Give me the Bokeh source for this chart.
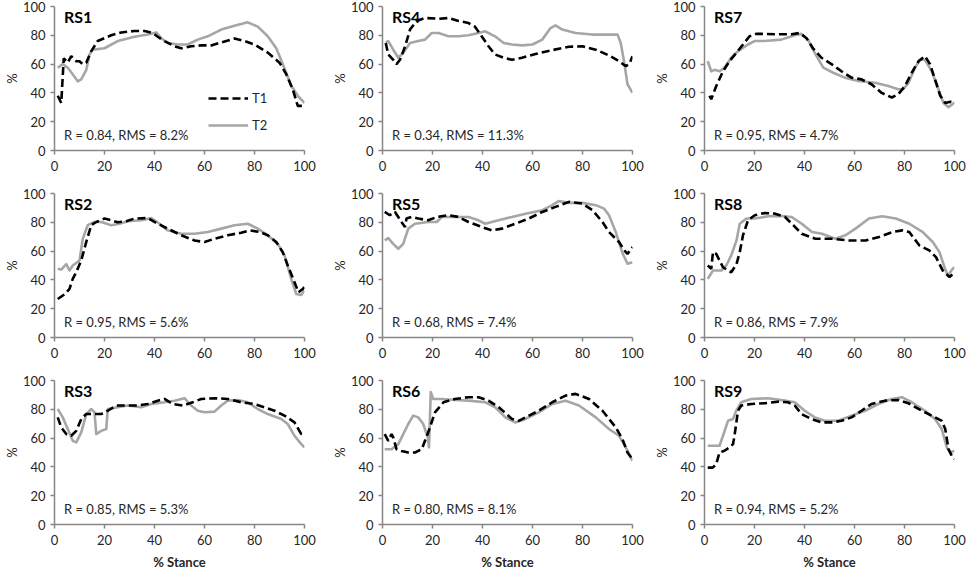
from bokeh.plotting import figure
from bokeh.models import Range1d, FixedTicker, Label, Legend, LegendItem
from bokeh.layouts import gridplot
from bokeh.embed import file_html
from bokeh.resources import INLINE

# ---------------- data ----------------
ticks = [0, 20, 40, 60, 80, 100]
series_names = ["T1", "T2"]

rs1_name = "RS1"
rs1_stats = "R = 0.84, RMS = 8.2%"
rs1_t1_x = [1.3, 2.7, 3.7, 5.3, 6.7, 8.7, 10, 11.3, 12.7, 14.7, 17.3, 22.7, 26.7, 32, 36, 39.3, 41.3, 44, 48, 50.7, 54.7, 58.7, 62.7, 66.7, 72, 76, 80, 85.3, 90, 92.7, 95.3, 97.3, 100]
rs1_t1_y = [38, 33, 64, 61, 65.5, 62, 62, 60, 61, 69, 76, 80, 82, 83, 83, 81.6, 79, 76, 72.4, 71, 72.4, 73, 73, 75, 77.7, 76, 73.6, 68, 61, 53, 42.5, 31, 31]
rs1_t2_x = [1.3, 3.3, 5.3, 7.3, 9.3, 10.7, 12.7, 14, 15.3, 20, 25.3, 32, 37.3, 40.7, 42.7, 45.3, 49.3, 53.3, 57.3, 61.3, 66.7, 72, 77.3, 81.3, 85.3, 88.7, 91.3, 94.7, 97.3, 100]
rs1_t2_y = [57.5, 60, 57.5, 53, 48, 49.4, 56, 66.7, 70, 71, 76, 79, 80.5, 82, 78, 74.7, 73.6, 73.6, 77, 79.3, 84, 86.7, 89, 86, 79.3, 71, 60, 45, 38, 33]

rs4_name = "RS4"
rs4_stats = "R = 0.34, RMS = 11.3%"
rs4_t1_x = [1.3, 2.3, 4.3, 5.6, 7, 9, 11, 13.7, 17, 22.4, 26.4, 30.4, 34.4, 37, 39.8, 42.4, 45, 48.5, 51.8, 55.8, 61.2, 67.9, 74.6, 79.9, 85.3, 90.6, 94.6, 97.3, 98.7, 100]
rs4_t1_y = [74.7, 66.7, 63, 60, 63, 72, 84, 90, 92, 91.5, 92, 90, 88.5, 86, 79, 72.4, 66.7, 64.4, 63, 64.4, 67, 69.7, 72, 72.4, 70, 66, 62, 58.6, 60, 65.5]
rs4_t2_x = [1.3, 2.3, 4.3, 6.3, 8.3, 11, 14.3, 17, 19.7, 22.4, 26.4, 30.4, 34.4, 38.4, 41, 45, 48.5, 51.8, 55.8, 60, 63.9, 67.2, 69.2, 71.9, 77.2, 83.9, 90.6, 94, 95.3, 96.7, 98, 100]
rs4_t2_y = [75, 76, 70, 64.4, 67.8, 74.7, 76, 77, 81.6, 81.6, 79.3, 79.3, 80, 81.6, 82.8, 79.3, 74.7, 73.6, 73, 73.6, 77, 85, 86.9, 84, 81.6, 80.5, 80.5, 80.5, 74.7, 61, 46, 40]

rs7_name = "RS7"
rs7_stats = "R = 0.95, RMS = 4.7%"
rs7_t1_x = [2, 2.7, 4.7, 7.4, 10, 12.7, 15.4, 18, 20.7, 24, 29.4, 34.8, 38.1, 40.8, 43.4, 46.8, 50.8, 54.8, 58.8, 62.8, 66.8, 70.9, 74.9, 77.5, 80.2, 82.9, 85.6, 88.2, 90.2, 92.2, 94.3, 96.3, 98.3, 100]
rs7_t1_y = [38, 35.6, 44.8, 55, 62, 67.8, 73.6, 79.3, 81, 81, 80.7, 80.7, 81.6, 78, 71, 64.4, 60, 55, 50.6, 49.4, 46, 40, 36.8, 39, 44.8, 54, 62, 65.5, 60, 49.4, 38, 33, 33.8, 33]
rs7_t2_x = [1.3, 2.7, 4, 6, 8, 10.7, 13.4, 17.4, 20, 24, 30.7, 36.1, 38.8, 41.4, 44.1, 47.5, 51.5, 56.1, 61.5, 68.2, 73.5, 77.5, 79.5, 81.6, 84.2, 86.2, 88.2, 90.9, 93.6, 95.6, 97.6, 100]
rs7_t2_y = [62, 55, 56, 55, 57.5, 64.4, 69, 73.6, 76, 76, 77, 80, 81, 77, 67.8, 57.5, 54, 50.6, 48.3, 47, 44.8, 42.5, 42.5, 47, 57.5, 63, 63, 55, 42.5, 33, 30, 33.3]

rs2_name = "RS2"
rs2_stats = "R = 0.95, RMS = 5.6%"
rs2_t1_x = [1.3, 4, 6, 7.3, 8.7, 10.7, 12.7, 14.7, 16.7, 20, 22.7, 25.3, 28.7, 32, 37.3, 41.3, 45.3, 50.7, 56, 60, 64, 69.3, 74.7, 78, 82, 85.3, 88.7, 91.3, 93.3, 96, 97.6, 99.3, 100]
rs2_t1_y = [26.7, 30, 33.7, 40.7, 45.3, 53.5, 66.3, 78, 80.2, 82.6, 81.4, 80, 80.7, 82.6, 83, 79, 75.6, 71, 67.4, 66.3, 68.6, 71, 72.8, 74.4, 73.3, 71, 66.3, 59.3, 50, 38.4, 31.4, 33.7, 34.9]
rs2_t2_x = [1.3, 2.7, 4.7, 6, 7.3, 10, 11.3, 13.3, 16, 18.7, 22.7, 26, 29.3, 34.7, 38.7, 42, 45.3, 50.7, 56, 61.3, 66.7, 72, 77.3, 81.3, 85.3, 89.3, 92, 94.7, 96.7, 98.7, 100]
rs2_t2_y = [47.7, 47.2, 51, 46.5, 50, 53.5, 68.6, 78, 80.2, 80.2, 78, 79, 80.7, 81.4, 83, 79, 74.4, 72, 72, 73.3, 75.6, 78, 79, 75.6, 71, 65, 57, 40.7, 30.2, 29.5, 32.6]

rs5_name = "RS5"
rs5_stats = "R = 0.68, RMS = 7.4%"
rs5_t1_x = [0.9, 2.9, 5, 6.3, 7.6, 9, 9.6, 11.6, 14.3, 18.3, 21.7, 26.4, 30.4, 34.4, 39.8, 43.8, 47.8, 53.1, 58.5, 63.9, 69.2, 74.6, 79.9, 84, 88, 90.6, 94.6, 96.7, 98, 100]
rs5_t1_y = [87.2, 84.9, 87.2, 83.7, 80.2, 76.7, 82.6, 83.7, 82.6, 81.4, 83.7, 84.9, 83.7, 80.2, 76.7, 74.4, 75.6, 79, 82.6, 87.2, 90.7, 94.2, 93, 88.4, 80.2, 73.3, 66.3, 60.5, 58, 62.8]
rs5_t2_x = [0.9, 2.3, 4.3, 6.3, 8.3, 10.3, 13, 18.3, 21.7, 23.7, 29, 34.4, 38.4, 41.1, 46.4, 51.8, 57.2, 63.9, 67.9, 70.5, 74.6, 79.9, 85.3, 88.6, 90.6, 93.3, 96, 98, 100]
rs5_t2_y = [67.4, 69, 65, 61.6, 65, 75.6, 79, 80.2, 80.2, 83.7, 83.7, 83.7, 81.4, 79, 81.4, 83.7, 86, 88.4, 91.9, 94.7, 93.5, 93.5, 91.9, 89.5, 84.9, 73.3, 58.6, 51.2, 52.3]

rs8_name = "RS8"
rs8_stats = "R = 0.86, RMS = 7.9%"
rs8_t1_x = [1.3, 2.7, 3.4, 4.7, 6, 7.4, 9.4, 10.7, 12.8, 14.1, 15.4, 17.4, 20.1, 24.2, 28.2, 32.2, 35.6, 38.9, 44.3, 51, 57.7, 64.4, 69.8, 75.2, 79.2, 81.9, 85.9, 89.9, 92.6, 95.3, 98, 99.3, 100]
rs8_t1_y = [50, 47.7, 59.3, 58.1, 53.5, 48.8, 46.5, 45.3, 51, 59.3, 71, 81.4, 84.9, 86.5, 86, 83.7, 77.9, 72, 68.6, 68.6, 67.4, 67.4, 69.8, 73.3, 74.4, 73.3, 64, 60.5, 55.8, 46.5, 42, 44, 43]
rs8_t2_x = [1.3, 3.4, 6.7, 8.7, 10.7, 12.8, 14.1, 16.8, 20.1, 25.5, 30.9, 34.9, 38.9, 43, 47, 52.3, 56.4, 60.4, 65.8, 71.1, 76.5, 81.9, 87.2, 91.3, 94, 96, 97.3, 99.3, 100]
rs8_t2_y = [40.7, 46.5, 46.5, 50, 57, 67.4, 79, 82.6, 82.6, 84.2, 84.4, 83.7, 79, 73.3, 72, 68.6, 71, 75.6, 82.6, 84.2, 82.6, 79, 73.3, 66.3, 59.3, 48.8, 43, 47.7, 48.8]

rs3_name = "RS3"
rs3_stats = "R = 0.85, RMS = 5.3%"
rs3_t1_x = [1.3, 2.7, 4.7, 6.7, 8.7, 10.7, 12.7, 16, 18.7, 21.3, 24.7, 29.3, 33.3, 37.3, 41.3, 44, 47.3, 51.3, 55.3, 58.7, 64, 69.3, 74.7, 80, 84, 88, 92, 96, 98.7, 100]
rs3_t1_y = [74.4, 67.4, 62.8, 61.6, 65, 73.3, 76.7, 76.7, 76.7, 79, 82.6, 82.6, 82.6, 83.7, 86, 87.2, 83.7, 82.6, 84.9, 87.2, 87.7, 87.2, 84.9, 83.7, 81.4, 79, 75.6, 70.9, 62.8, 64]
rs3_t2_x = [1.3, 3.3, 5.3, 7.3, 8.7, 10.7, 12.7, 14.7, 16, 16.7, 18.7, 20.7, 21.3, 25.3, 29.3, 34.7, 38.7, 44, 48, 52, 54.7, 57.3, 60, 64, 66.7, 69.3, 73.3, 77.3, 81.3, 85.3, 90.7, 93.3, 96, 98.7, 100]
rs3_t2_y = [80.2, 74.4, 66.3, 58.1, 57, 64, 76.7, 80.2, 77.9, 62.8, 65, 66.3, 80.2, 81.4, 82.6, 81.4, 83.7, 84.9, 86, 87.7, 82.6, 79, 77.9, 78.4, 82.6, 86, 86.5, 84.9, 80.2, 76.7, 73.3, 69.8, 61.6, 55.8, 53.5]

rs6_name = "RS6"
rs6_stats = "R = 0.80, RMS = 8.1%"
rs6_t1_x = [0.9, 2.3, 3.6, 4.3, 5.6, 7.6, 10.3, 13, 15.7, 18.3, 21, 24.4, 29, 34.4, 38.4, 42.4, 46.5, 51.8, 54.5, 57.2, 62.5, 67.9, 73.2, 77.2, 82.6, 88, 93.3, 96, 98, 100]
rs6_t1_y = [62.8, 58.1, 62.8, 60.5, 52.3, 51, 50, 50, 52.3, 64, 77.9, 84.9, 87.2, 88.4, 88.4, 86, 81.4, 73.3, 72, 74.4, 79, 84.9, 89.5, 90.7, 87.2, 79, 67.4, 59.3, 50, 45.3]
rs6_t2_x = [0.9, 3.6, 6.3, 8.3, 10.3, 12.3, 14.3, 16.3, 18.1, 18.6, 19.3, 20.3, 23.7, 29, 34.4, 41.1, 45.1, 49.1, 53.1, 57.2, 62.5, 67.9, 73.2, 78.6, 85.3, 90.6, 94.6, 97.3, 100]
rs6_t2_y = [52.3, 52.3, 55.8, 62.8, 69.8, 75.6, 74.4, 69.8, 60.5, 53.5, 91.9, 87.2, 87.2, 86.5, 86, 84.9, 81.4, 74.4, 70.9, 73.3, 77.9, 83.7, 86, 82.6, 74.4, 66.3, 61.6, 53.5, 44.2]

rs9_name = "RS9"
rs9_stats = "R = 0.94, RMS = 5.2%"
rs9_t1_x = [1.3, 3.3, 4.7, 6, 8, 10, 11.4, 12, 13.4, 14.7, 18.7, 24.1, 29.4, 33.4, 36.1, 38.8, 42.8, 46.8, 50.8, 54.8, 58.8, 62.8, 66.8, 72.2, 77.5, 81.6, 86.9, 90.9, 94.9, 96.3, 97.6, 98.9, 100]
rs9_t1_y = [39.5, 39.5, 41.9, 50, 51.2, 53.5, 55.8, 61.6, 79, 82.6, 83.7, 84.2, 85.3, 84.9, 82.6, 76.7, 73.3, 70.9, 70.9, 72, 74.4, 79, 83.7, 86, 86.5, 84.2, 79, 75.6, 72, 66.3, 52.3, 47.7, 45.3]
rs9_t2_x = [1.3, 6, 7.4, 9.4, 11.4, 12.7, 14.7, 18.7, 25.4, 32.1, 36.1, 40.1, 44.1, 48.1, 53.5, 58.8, 64.2, 69.5, 74.9, 78.9, 82.9, 88.2, 92.2, 94.9, 96.9, 98.3, 100]
rs9_t2_y = [54.7, 54.7, 61.6, 72, 73.3, 79, 84.9, 87.2, 87.7, 86, 84.9, 79, 74.4, 72, 72, 75.6, 79, 83.7, 87.2, 88.4, 84.9, 79, 73.3, 66.3, 53.5, 50, 51.2]

# grid order (row by row)
grid_panels = [
    [(rs1_name, rs1_stats, rs1_t1_x, rs1_t1_y, rs1_t2_x, rs1_t2_y),
     (rs4_name, rs4_stats, rs4_t1_x, rs4_t1_y, rs4_t2_x, rs4_t2_y),
     (rs7_name, rs7_stats, rs7_t1_x, rs7_t1_y, rs7_t2_x, rs7_t2_y)],
    [(rs2_name, rs2_stats, rs2_t1_x, rs2_t1_y, rs2_t2_x, rs2_t2_y),
     (rs5_name, rs5_stats, rs5_t1_x, rs5_t1_y, rs5_t2_x, rs5_t2_y),
     (rs8_name, rs8_stats, rs8_t1_x, rs8_t1_y, rs8_t2_x, rs8_t2_y)],
    [(rs3_name, rs3_stats, rs3_t1_x, rs3_t1_y, rs3_t2_x, rs3_t2_y),
     (rs6_name, rs6_stats, rs6_t1_x, rs6_t1_y, rs6_t2_x, rs6_t2_y),
     (rs9_name, rs9_stats, rs9_t1_x, rs9_t1_y, rs9_t2_x, rs9_t2_y)],
]

# ---------------- style ----------------
FONT = "Lato"
TXT = "#262626"
AXC = "#868686"
T1_COLOR = "black"
T2_COLOR = "#a6a6a6"
FRAME_W, FRAME_H = 250, 144
LEFT_BORDER = 53
RIGHT_BORDERS = [24, 18, 12]


def make_panel(panel, r, c):
    name, stats, t1x, t1y, t2x, t2y = panel
    p = figure(frame_width=FRAME_W, frame_height=FRAME_H,
               x_range=Range1d(0, 100), y_range=Range1d(0, 100),
               output_backend="svg", toolbar_location=None,
               min_border_left=LEFT_BORDER, min_border_right=RIGHT_BORDERS[c],
               min_border_top=6, min_border_bottom=37 if r < 2 else 47)
    p.outline_line_color = None
    p.xgrid.visible = False
    p.ygrid.visible = False
    p.background_fill_color = "white"
    p.border_fill_color = "white"

    for ax in (p.xaxis[0], p.yaxis[0]):
        ax.ticker = FixedTicker(ticks=ticks)
        ax.axis_line_color = AXC
        ax.axis_line_width = 1.5
        ax.major_tick_line_color = AXC
        ax.major_tick_line_width = 1.5
        ax.major_tick_out = 4
        ax.major_tick_in = 0
        ax.minor_tick_line_color = None
        ax.major_label_text_font = FONT
        ax.major_label_text_font_size = "13px"
        ax.major_label_text_color = TXT
    p.xaxis[0].major_label_standoff = 6
    p.yaxis[0].major_label_standoff = 5

    p.yaxis[0].axis_label = "%"
    p.yaxis[0].axis_label_text_font = FONT
    p.yaxis[0].axis_label_text_font_size = "13px"
    p.yaxis[0].axis_label_text_font_style = "normal"
    p.yaxis[0].axis_label_text_color = TXT
    p.yaxis[0].axis_label_standoff = 0
    if r == 2:
        p.xaxis[0].axis_label = "% Stance"
        p.xaxis[0].axis_label_text_font = FONT
        p.xaxis[0].axis_label_text_font_size = "13px"
        p.xaxis[0].axis_label_text_font_style = "bold"
        p.xaxis[0].axis_label_text_color = TXT
        p.xaxis[0].axis_label_standoff = 6

    r2 = p.line(t2x, t2y, line_color=T2_COLOR, line_width=2.6, line_join="round")
    r1 = p.line(t1x, t1y, line_color=T1_COLOR, line_width=2.6, line_dash="8 4")

    p.add_layout(Label(x=3.8, y=99.5, text=name, text_font=FONT, text_font_size="16px",
                       text_font_style="bold", text_color="black", text_baseline="top"))
    p.add_layout(Label(x=3.8, y=10.5, text=stats, text_font=FONT, text_font_size="13px",
                       text_color=TXT, text_baseline="middle"))

    if r == 0 and c == 0:
        legend = Legend(items=[LegendItem(label=series_names[0], renderers=[r1]),
                               LegendItem(label=series_names[1], renderers=[r2])],
                        location=(154, 15), glyph_width=40, glyph_height=20,
                        label_height=20, spacing=7, padding=0, margin=0,
                        border_line_alpha=0, background_fill_alpha=0,
                        label_text_font=FONT, label_text_font_size="13px",
                        label_text_color=TXT, label_standoff=4)
        p.add_layout(legend)
    return p


children = [[make_panel(grid_panels[r][c], r, c) for c in range(3)] for r in range(3)]
grid = gridplot(children, toolbar_location=None)

open("out.html", "w").write(file_html(grid, INLINE))
